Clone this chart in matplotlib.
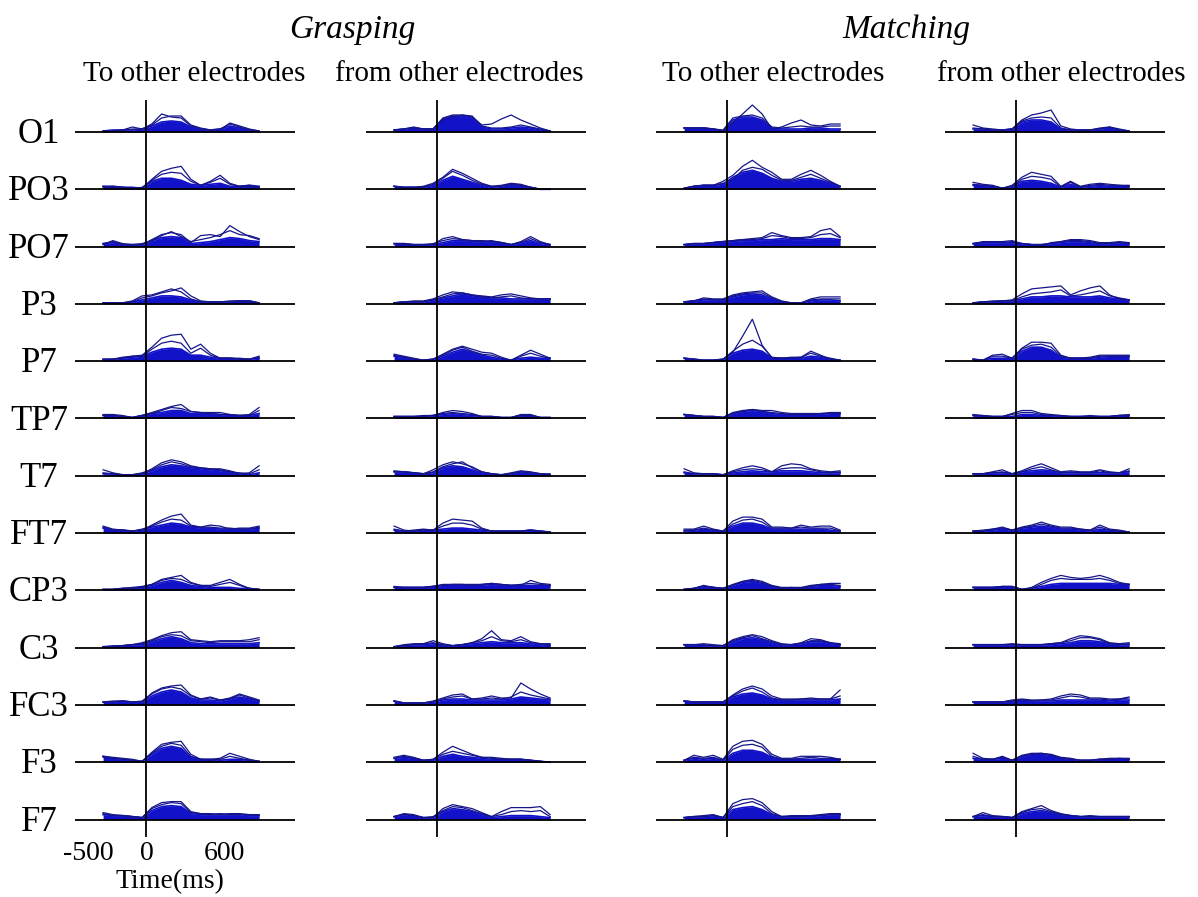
import numpy as np
import matplotlib
matplotlib.use('Agg')
import matplotlib.pyplot as plt
from matplotlib.transforms import blended_transform_factory

plt.rcParams['font.family'] = ['Liberation Serif', 'DejaVu Serif']

# time samples (ms) of every trace
TIME = [-330, -255, -180, -105, -30, 45, 120, 195, 270, 345, 420, 495, 570, 645, 720, 795, 870]
ELECTRODES = ['O1', 'PO3', 'PO7', 'P3', 'P7', 'TP7', 'T7', 'FT7', 'CP3', 'C3', 'FC3', 'F3', 'F7']
CONDITIONS = ['Grasping', 'Matching']
DIRECTIONS = ['To other electrodes', 'from other electrodes']
TICK_LABELS = ['-500', '0', '600']

# per electrode: (dense bundle, upper trace a, upper trace b)
GRASP_TO = [
    ([1,2,2,2,3,6,10,11,10,5,3,2,3,6,4,2,1], [0,1,2,5,3,8,18,15,14,6,3,2,3,8,5,2,0], [1,1,2,3,3,7,14,16,16,7,4,2,2,9,6,3,1]),
    ([3,3,2,2,1,8,11,11,9,5,4,5,6,3,3,4,3], [2,3,2,1,1,10,18,21,23,10,4,8,14,6,3,4,2], [3,2,2,1,2,9,15,17,16,8,4,7,11,5,3,3,2]),
    ([3,4,2,2,2,6,9,10,9,3,4,5,7,9,8,6,5], [2,6,3,2,2,7,12,14,12,4,11,12,10,21,15,10,7], [3,5,2,2,3,6,11,15,10,5,7,9,12,16,12,11,8]),
    ([1,1,1,2,4,6,8,8,7,4,2,2,2,2,3,3,1], [1,1,1,3,8,9,12,15,12,5,2,2,2,3,3,3,1], [1,1,1,2,6,8,11,13,16,8,3,2,2,2,3,2,1]),
    ([2,2,3,4,5,9,12,13,12,6,6,4,3,3,2,2,3], [1,2,4,5,6,14,23,26,27,12,17,8,3,3,2,2,4], [2,2,3,5,5,12,18,20,18,8,13,6,3,3,3,2,5]),
    ([3,3,2,1,3,5,6,8,8,5,5,5,4,3,3,3,5], [4,4,3,1,3,6,9,12,14,7,6,6,6,4,3,4,11], [3,3,2,1,3,5,8,11,10,7,6,5,4,4,3,3,8]),
    ([2,2,1,1,2,5,9,11,10,8,7,6,5,4,2,1,3], [6,3,1,1,2,7,13,16,14,10,8,7,7,5,2,3,10], [3,2,1,1,3,6,11,14,12,9,8,7,6,4,3,2,6]),
    ([5,3,3,2,3,6,8,10,9,6,5,5,4,4,4,4,5], [7,4,3,2,3,8,13,17,19,8,6,8,7,4,5,5,7], [6,3,3,2,4,7,11,14,13,7,6,6,5,5,4,4,6]),
    ([1,1,2,2,3,5,8,10,8,5,4,3,3,3,2,2,1], [1,1,2,2,3,6,11,13,15,8,5,5,8,11,6,2,1], [1,1,2,3,4,6,10,12,11,7,5,4,6,8,5,2,1]),
    ([1,1,2,3,3,6,9,11,9,5,4,4,4,4,4,4,5], [1,1,2,3,5,8,12,15,16,8,7,6,7,7,7,8,10], [1,2,2,3,4,7,11,13,12,7,6,5,6,6,6,6,8]),
    ([3,3,4,3,3,9,13,15,13,7,5,5,4,6,8,6,4], [3,4,4,3,3,12,17,19,20,10,6,8,5,7,11,8,5], [3,3,4,3,4,11,16,18,16,9,6,7,5,6,10,7,4]),
    ([6,4,3,2,1,8,14,16,14,5,3,3,2,3,3,2,1], [6,5,4,3,1,10,18,20,21,8,3,3,4,9,6,3,1], [5,4,3,2,1,9,16,19,17,6,3,2,3,6,4,2,1]),
    ([5,4,4,3,2,9,13,14,13,6,5,5,5,5,5,4,4], [7,5,4,3,2,12,17,18,18,8,6,6,5,6,6,5,5], [6,4,4,3,2,11,15,17,16,7,6,5,6,5,5,5,4]),
]

GRASP_FROM = [
    ([2,3,4,3,3,13,16,16,14,5,3,3,4,5,4,2,1], [2,3,4,3,3,14,17,17,15,7,8,13,17,12,8,4,1], [2,3,5,3,3,12,15,17,16,6,4,4,5,7,5,3,1]),
    ([3,2,2,2,4,9,13,10,7,4,2,3,5,4,2,0,0], [3,2,2,3,6,12,20,16,11,6,3,4,6,5,2,0,0], [3,2,2,2,5,11,18,14,9,5,3,3,5,4,2,0,0]),
    ([3,3,2,2,2,4,6,6,5,5,5,4,2,4,6,3,2], [3,3,2,2,2,8,10,7,6,5,6,4,2,5,10,5,2], [3,2,2,2,3,6,8,7,6,6,5,4,2,4,8,4,2]),
    ([1,2,2,2,4,6,8,10,8,7,6,6,5,5,5,5,5], [1,2,3,3,5,9,12,11,9,8,7,9,10,8,6,5,5], [1,2,2,2,4,7,10,11,9,7,6,7,8,6,5,5,5]),
    ([5,4,2,1,2,5,9,12,9,6,4,2,1,3,4,3,3], [7,5,3,1,2,7,12,15,12,9,8,4,1,6,11,7,3], [6,4,2,1,2,6,11,14,10,7,6,3,1,5,8,5,3]),
    ([2,2,2,2,3,4,5,4,3,2,2,1,1,3,3,1,1], [2,2,2,3,3,6,8,7,5,2,2,1,1,4,4,1,1], [2,2,2,2,3,5,6,5,4,2,2,1,1,3,3,1,1]),
    ([4,4,3,2,3,8,10,9,6,3,2,1,2,4,3,2,1], [5,4,3,2,6,11,14,12,9,4,2,1,3,5,4,2,2], [4,4,3,2,4,9,12,14,8,4,2,1,2,4,3,2,1]),
    ([3,2,2,3,3,4,5,5,4,3,2,2,2,2,3,2,1], [7,3,2,3,3,10,14,13,12,5,2,2,2,2,3,2,1], [4,2,3,4,3,7,10,10,8,4,2,2,2,2,3,2,1]),
    ([3,3,3,3,4,5,5,5,5,5,6,5,5,5,5,5,5], [4,3,3,3,4,6,6,6,6,6,7,6,5,5,10,7,6], [3,3,3,3,4,5,6,6,5,6,7,6,5,6,7,6,5]),
    ([1,2,3,3,4,3,2,3,4,5,6,5,5,5,4,3,2], [1,3,4,4,7,4,2,3,5,9,17,8,7,11,6,4,4], [1,2,3,4,5,3,2,3,5,7,11,7,6,8,5,4,3]),
    ([4,2,2,2,3,5,6,6,5,5,5,5,6,8,7,6,5], [4,2,2,2,4,7,10,11,6,7,9,7,7,22,16,11,7], [4,2,2,2,3,6,8,9,6,6,7,6,8,13,10,8,6]),
    ([4,5,4,2,2,6,8,6,5,4,3,3,3,3,2,1,0], [5,7,5,2,3,10,16,12,8,5,5,4,3,3,2,1,0], [4,6,4,2,3,8,11,9,7,5,4,3,3,3,2,1,0]),
    ([3,5,4,2,2,8,11,10,8,5,2,3,4,4,4,3,2], [3,6,5,2,2,11,15,13,11,7,3,8,12,12,12,13,5], [3,5,4,2,3,9,13,12,9,6,3,5,8,9,8,9,3]),
]

MATCH_TO = [
    ([4,4,4,3,1,12,15,15,12,4,3,3,3,4,4,3,3], [4,4,4,3,1,9,18,27,18,3,5,9,12,7,6,8,8], [4,4,4,3,2,14,16,17,14,5,4,5,6,5,5,6,6]),
    ([1,3,4,4,5,12,17,19,16,11,8,8,10,11,9,6,3], [1,3,4,4,8,14,23,29,22,17,10,10,15,19,14,8,3], [1,3,4,4,6,10,19,22,20,14,9,9,12,15,11,7,3]),
    ([2,3,3,4,5,5,6,6,7,7,8,7,7,7,8,8,7], [2,3,3,4,5,6,7,8,9,14,11,9,9,10,16,18,10], [2,3,3,4,5,6,7,7,8,11,10,8,8,9,12,13,9]),
    ([2,3,4,4,4,7,9,10,9,5,2,1,1,3,4,4,3], [2,3,6,5,5,9,11,12,13,7,3,1,1,5,7,7,7], [2,3,5,4,4,8,10,11,11,6,2,1,1,4,5,5,5]),
    ([3,2,1,1,2,8,11,12,10,3,3,3,3,5,4,2,1], [3,2,1,1,2,9,25,42,16,3,3,4,4,8,5,3,1], [3,2,1,1,2,10,17,21,15,4,3,3,4,10,6,2,1]),
    ([4,3,2,2,1,5,7,8,7,5,4,4,4,4,4,5,5], [4,3,2,2,1,6,8,9,8,8,6,5,5,5,5,6,6], [4,3,2,2,1,5,7,9,7,6,5,4,4,4,5,5,5]),
    ([3,2,2,2,1,3,4,5,4,4,5,5,5,4,3,3,3], [7,3,2,2,1,5,8,10,8,4,10,12,11,7,5,4,5], [4,2,2,2,1,4,6,7,6,4,7,8,8,6,4,3,4]),
    ([2,3,4,3,2,7,10,10,8,4,4,4,4,4,4,3,2], [4,4,7,4,2,12,16,16,14,6,6,5,8,6,7,7,3], [3,3,5,3,2,9,13,14,11,5,5,5,6,5,5,5,2]),
    ([1,2,4,3,2,5,8,9,7,4,2,2,2,4,5,5,4], [1,2,5,3,2,6,9,11,9,5,3,3,3,5,6,7,7], [1,2,4,3,2,5,9,10,8,4,2,3,2,4,6,6,5]),
    ([3,3,2,2,2,6,9,10,8,5,3,3,4,6,6,4,3], [3,3,4,3,2,8,11,13,11,7,4,3,5,9,8,5,4], [3,3,3,2,2,7,10,12,9,6,3,3,4,7,7,5,3]),
    ([4,3,3,3,3,8,11,12,10,6,5,5,5,5,5,5,6], [4,3,3,3,3,10,16,19,16,9,6,6,6,7,6,6,15], [4,3,3,3,3,9,14,17,13,7,5,5,6,6,6,6,9]),
    ([2,4,3,4,2,9,12,12,10,5,3,3,3,3,3,3,3], [2,7,5,7,3,16,21,22,18,8,4,4,6,6,6,5,3], [2,5,4,5,2,13,17,18,15,6,3,3,4,5,4,4,3]),
    ([2,3,3,4,2,10,12,13,10,5,3,3,3,3,4,5,5], [2,3,4,5,2,16,20,21,17,8,3,4,4,4,5,6,6], [2,3,3,4,2,13,16,18,14,6,3,3,3,4,4,5,5]),
]

MATCH_FROM = [
    ([3,3,2,2,3,10,12,12,10,3,2,2,2,3,4,2,1], [7,4,3,2,3,12,17,19,22,6,3,2,2,4,5,3,1], [4,3,2,2,3,11,14,15,14,4,2,2,2,3,5,2,1]),
    ([4,4,3,1,3,8,9,8,6,2,5,2,3,4,3,3,3], [7,5,4,1,4,12,17,15,13,3,8,3,5,6,5,4,4], [5,4,3,1,3,10,13,12,10,2,7,2,4,5,4,4,3]),
    ([3,4,4,4,4,3,2,2,3,4,5,5,4,3,3,4,3], [3,5,5,5,6,3,2,1,4,5,7,7,6,4,4,5,4], [3,4,5,4,5,3,2,2,3,5,6,6,5,3,3,4,3]),
    ([1,2,2,3,3,5,7,7,8,8,7,7,7,8,6,5,4], [1,2,3,3,4,10,15,16,17,18,9,13,16,18,9,5,4], [1,2,2,3,3,7,10,11,12,14,8,9,11,13,8,6,4]),
    ([2,1,3,3,3,10,14,14,11,4,3,3,3,4,5,5,5], [2,1,6,7,3,13,19,19,18,6,3,3,4,6,6,6,6], [2,1,5,5,3,12,16,17,14,5,3,3,3,5,5,5,5]),
    ([3,2,2,2,2,4,4,3,3,2,2,2,2,2,2,3,3], [4,3,2,2,5,8,8,5,4,3,2,2,3,2,2,3,4], [3,3,2,2,4,6,6,4,3,3,2,2,2,2,2,3,3]),
    ([2,2,3,3,2,4,5,6,5,3,3,3,3,3,3,3,4], [2,2,4,6,2,5,9,12,8,4,5,4,4,6,4,3,7], [2,2,3,4,2,4,7,9,6,3,4,3,3,5,3,3,5]),
    ([2,2,3,4,3,5,6,7,6,4,4,3,2,4,3,2,1], [2,3,4,6,3,6,8,11,8,6,6,4,3,8,4,3,1], [2,2,4,5,3,5,7,9,7,5,5,4,3,6,3,2,1]),
    ([3,3,3,3,3,1,2,4,6,7,7,7,7,7,7,6,6], [3,3,3,4,4,1,3,8,12,15,13,12,13,15,12,8,6], [3,3,3,4,4,1,2,6,10,12,11,11,11,12,10,7,6]),
    ([3,3,3,3,3,3,3,3,3,4,5,7,7,6,4,3,3], [3,3,3,3,4,3,3,3,4,5,9,12,11,9,5,4,5], [3,3,3,3,3,3,3,3,4,5,7,10,10,8,4,3,4]),
    ([3,3,3,3,4,5,4,4,4,5,5,5,5,5,4,5,5], [3,3,3,3,5,6,5,5,6,9,11,10,7,7,6,6,8], [3,3,3,3,4,5,4,5,5,7,9,8,6,6,5,6,7]),
    ([4,3,3,4,2,6,8,8,7,4,3,2,2,3,3,3,3], [9,4,3,6,2,7,9,9,8,5,4,2,2,3,4,4,4], [6,3,3,5,2,6,8,9,7,4,3,2,2,3,3,4,3]),
    ([3,4,3,3,2,6,8,9,7,5,4,3,3,3,3,3,3], [3,7,4,3,2,8,11,14,9,6,4,3,4,3,3,3,3], [3,5,3,3,2,7,10,11,8,5,4,3,3,3,3,3,3]),
]

PANELS = [GRASP_TO, GRASP_FROM, MATCH_TO, MATCH_FROM]

# layout in pixels
W, H = 1198, 897
PX_PER_MS = 0.13
GAP = 57.3
ZERO_X = [146, 437, 727, 1016]
TOP, FIRST_BASE, BOTTOM = 100, 132, 837
CORE_COLOR = '#1212c8'
LINE_COLOR = '#15158a'


def fx(px):
    return px / W


def fy(py):
    return 1 - py / H


fig = plt.figure(figsize=(W / 100, H / 100), dpi=100)

axes = []
for col, rows in enumerate(PANELS):
    v = ZERO_X[col]
    ax = fig.add_axes([fx(v - 71), fy(BOTTOM), 220 / W, (BOTTOM - TOP) / H])
    ax.set_xlim(-71 / PX_PER_MS, 149 / PX_PER_MS)
    ax.set_ylim(-(BOTTOM - FIRST_BASE), FIRST_BASE - TOP)
    ax.axis('off')
    for r, (core, a, b) in enumerate(rows):
        base = -r * GAP
        core = base + np.array(core)
        ax.fill_between(TIME, base, core, color=CORE_COLOR, lw=0, zorder=1)
        ax.plot(TIME, core, color=CORE_COLOR, lw=1.2, zorder=1)
        ax.plot(TIME, base + np.array(b), color=LINE_COLOR, lw=0.9, zorder=2)
        ax.plot(TIME, base + np.array(a), color=LINE_COLOR, lw=0.9, zorder=2)
        ax.axhline(base, color='black', lw=1.3, zorder=3)
    ax.axvline(0, color='black', lw=1.3, zorder=3)
    axes.append(ax)

# electrode names
for r, name in enumerate(ELECTRODES):
    fig.text(fx(39), fy(FIRST_BASE + r * GAP + 11), name, ha='center', va='baseline', fontsize=25)

# column headers
for col, cx in enumerate([194, 459, 773, 1061]):
    fig.text(fx(cx), fy(74), DIRECTIONS[col % 2], ha='center', va='center', fontsize=21)
for cond, cx in zip(CONDITIONS, [352, 906]):
    fig.text(fx(cx), fy(30), cond, ha='center', va='center', fontsize=24, style='italic')

# time axis labels under the first column
trans = blended_transform_factory(axes[0].transData, fig.transFigure)
for lab, xpos in zip(TICK_LABELS, [-445, 8, 600]):
    axes[0].text(xpos, fy(853), lab, transform=trans, ha='center', va='center', fontsize=20)
fig.text(fx(170), fy(882), 'Time(ms)', ha='center', va='center', fontsize=20)

fig.savefig('out.png', dpi=100)
